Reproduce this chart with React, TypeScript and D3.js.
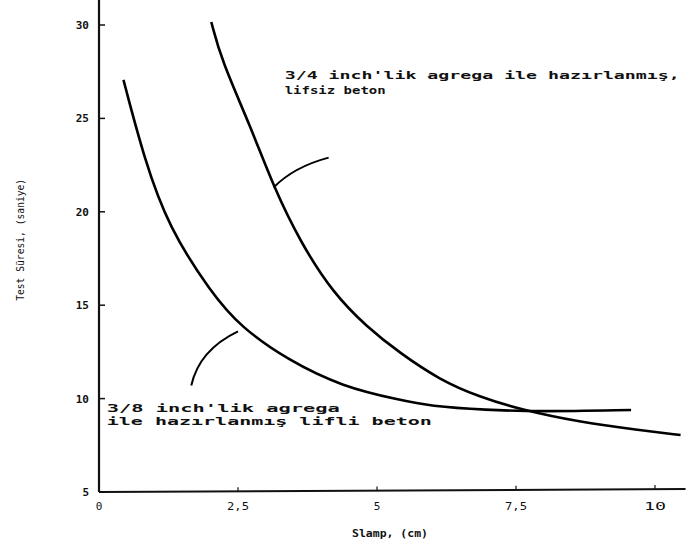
import React from "react";
import * as d3 from "d3";

// slump (cm) vs test time (s)
const lifliX = [0.44, 0.82, 1.25, 2.02, 2.55, 3.39, 4.39, 5.41, 5.95, 6.96, 7.91, 9.57];
const lifliY = [27.06, 22.77, 19.19, 15.65, 13.83, 12.07, 10.62, 9.93, 9.6, 9.39, 9.3, 9.39];

const lifsizX = [2.02, 2.2, 2.73, 3.14, 3.63, 4.21, 4.82, 5.41, 6.13, 6.84, 7.61, 8.63, 9.7, 10.46];
const lifsizY = [30.16, 28.13, 24.54, 21.33, 18.33, 15.65, 13.83, 12.44, 11.0, 10.09, 9.39, 8.75, 8.32, 8.05];

const xTicks = [0, 2.5, 5, 7.5, 10];
const xTickLabels = ["0", "2,5", "5", "7,5", "10"];
const yTicks = [5, 10, 15, 20, 25, 30];

const noteLifsiz = ["3/4 inch'lik agrega ile hazırlanmış,", "lifsiz beton"];
const noteLifli = ["3/8 inch'lik agrega", "ile hazırlanmış lifli beton"];

const font = "'DejaVu Sans Mono', 'Liberation Mono', monospace";

const App = () => {
  const width = 693,
    height = 548;

  const x = d3.scaleLinear().domain([0, 10]).range([99, 655]);
  const y = d3.scaleLinear().domain([5, 30]).range([492, 25]);

  const line = d3
    .line<[number, number]>()
    .x((d) => x(d[0]))
    .y((d) => y(d[1]))
    .curve(d3.curveBasis);

  const lifli = lifliX.map((v, i) => [v, lifliY[i]] as [number, number]);
  const lifsiz = lifsizX.map((v, i) => [v, lifsizY[i]] as [number, number]);

  // leader lines, in data units
  const leader = (a: number[], c: number[], b: number[]) => {
    const p = d3.path();
    p.moveTo(x(a[0]), y(a[1]));
    p.quadraticCurveTo(x(c[0]), y(c[1]), x(b[0]), y(b[1]));
    return p.toString();
  };

  const x0 = x(0),
    yBase = y(5);

  return (
    <svg width={width} height={height} style={{ position: "absolute", left: 0, top: 0, background: "#fff" }}>
      <g fill="#111" fontFamily={font} fontWeight="bold" fontSize={11}>
        {/* axes */}
        <line x1={x0} x2={x0} y1={yBase} y2={0} stroke="#111" strokeWidth={2.2} />
        <line x1={x0} x2={x(10.55)} y1={yBase} y2={yBase - 3} stroke="#111" strokeWidth={2} />
        {yTicks.map((t) => (
          <g key={t}>
            <line x1={x0} x2={x0 + 6} y1={y(t)} y2={y(t)} stroke="#111" strokeWidth={1.5} />
            <text x={x0 - 10} y={y(t) + 4} textAnchor="end">
              {t}
            </text>
          </g>
        ))}
        {xTicks.map((t, i) => (
          <g key={t}>
            <line x1={x(t)} x2={x(t)} y1={yBase - 0.3 * t} y2={yBase - 0.3 * t - 4} stroke="#111" strokeWidth={1.2} />
            <text x={x(t)} y={yBase + 18} textAnchor="middle" fontWeight="normal" textLength={t === 0 || t === 5 ? undefined : 22} lengthAdjust="spacingAndGlyphs">
              {xTickLabels[i]}
            </text>
          </g>
        ))}
        <text x={390} y={537} textAnchor="middle" fontSize={11} textLength={76} lengthAdjust="spacingAndGlyphs">
          Slamp, (cm)
        </text>
        <text
          transform={`translate(24,${y(18.5)}) rotate(-90)`}
          textAnchor="middle"
          fontSize={10}
          fontWeight="normal"
          textLength={122}
          lengthAdjust="spacingAndGlyphs"
        >
          Test Süresi, (saniye)
        </text>

        {/* curves */}
        <path d={line(lifli) ?? ""} fill="none" stroke="#000" strokeWidth={2.6} />
        <path d={line(lifsiz) ?? ""} fill="none" stroke="#000" strokeWidth={2.6} />

        {/* annotations */}
        <path d={leader([3.14, 21.3], [3.5, 22.4], [4.13, 22.9])} fill="none" stroke="#000" strokeWidth={2} />
        <path d={leader([1.66, 10.7], [1.8, 12.6], [2.5, 13.6])} fill="none" stroke="#000" strokeWidth={2} />

        <text x={x(3.34)} y={y(27.1)} textLength={395} lengthAdjust="spacingAndGlyphs">
          {noteLifsiz[0]}
        </text>
        <text x={x(3.34)} y={y(26.3)} textLength={101} lengthAdjust="spacingAndGlyphs">
          {noteLifsiz[1]}
        </text>
        <text x={x(0.14)} y={y(9.3)} textLength={233} lengthAdjust="spacingAndGlyphs">
          {noteLifli[0]}
        </text>
        <text x={x(0.14)} y={y(8.6)} textLength={325} lengthAdjust="spacingAndGlyphs">
          {noteLifli[1]}
        </text>
      </g>
    </svg>
  );
};

export default App;
